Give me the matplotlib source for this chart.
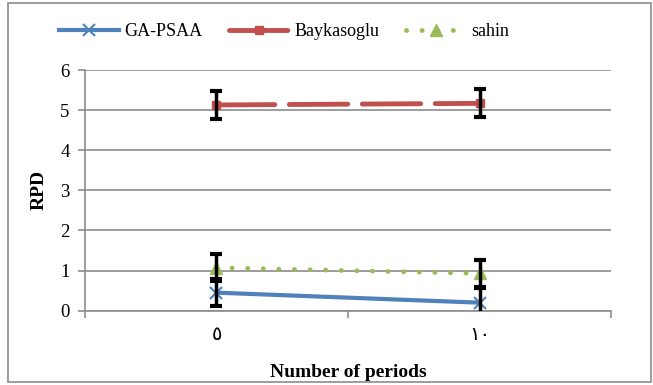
import numpy as np
import matplotlib.pyplot as plt
from matplotlib.patches import Rectangle

periods = ['٥', '١٠']
ga_psaa = [0.45, 0.20]
ga_err = [0.33, 0.37]
baykasoglu = [5.13, 5.17]
bay_err = [0.35, 0.35]
sahin = [1.07, 0.93]
sahin_err = [0.34, 0.33]

plt.rcParams['font.family'] = ['Liberation Serif', 'DejaVu Sans']

fig = plt.figure(figsize=(6.53, 3.85), dpi=100)
ax = fig.add_axes([0.130, 0.193, 0.806, 0.625])
x = np.arange(len(periods))

ax.plot(x, ga_psaa, color='#4F81BD', lw=3, marker='x', ms=8, mew=1.5,
        label='GA-PSAA', zorder=3)
ax.plot(x, baykasoglu, color='#C0504D', lw=3.5, ls=(0, (12, 3)),
        dash_capstyle='round', marker='s', ms=6, label='Baykasoglu', zorder=3)
ax.plot(x, sahin, color='#9BBB59', lw=3.5, ls=(0, (0.01, 3.2)),
        dash_capstyle='round', marker='^', ms=8, label='sahin', zorder=3)

for vals, errs in [(ga_psaa, ga_err), (baykasoglu, bay_err), (sahin, sahin_err)]:
    ax.errorbar(x, vals, yerr=errs, fmt='none', ecolor='black', elinewidth=2.5,
                capsize=4, capthick=3, zorder=4)

ax.set_xlim(-0.5, 1.5)
ax.set_ylim(0, 6)
ax.set_yticks(range(7))
ax.yaxis.grid(True, color='#8c8c8c', lw=1.2)
ax.set_axisbelow(True)
ax.set_xticks(x)
ax.set_xticklabels(periods, fontsize=14)
ax.set_xticks([-0.5, 0.5, 1.5], minor=True)
ax.tick_params(axis='x', which='major', length=0, pad=12)
ax.tick_params(axis='x', which='minor', length=5, color='#8c8c8c', width=1.2)
ax.tick_params(axis='y', length=5, color='#8c8c8c', width=1.2, labelsize=13.5, pad=6)

for s in ['top', 'right']:
    ax.spines[s].set_visible(False)
for s in ['left', 'bottom']:
    ax.spines[s].set_color('#8c8c8c')
    ax.spines[s].set_linewidth(1.2)

ax.set_ylabel('RPD', fontsize=14, fontweight='bold', labelpad=9)
ax.set_xlabel('Number of periods', fontsize=14, fontweight='bold', labelpad=14)

fig.legend(loc='center', bbox_to_anchor=(0.435, 0.918), ncol=3, frameon=False,
           fontsize=13, handlelength=3.3, columnspacing=1.5, handletextpad=0.3)

fig.patches.append(Rectangle((0.013, 0.008), 0.984, 0.984, transform=fig.transFigure,
                             fill=False, edgecolor='#8c8c8c', lw=1.2))

fig.savefig('out.png', dpi=100)
